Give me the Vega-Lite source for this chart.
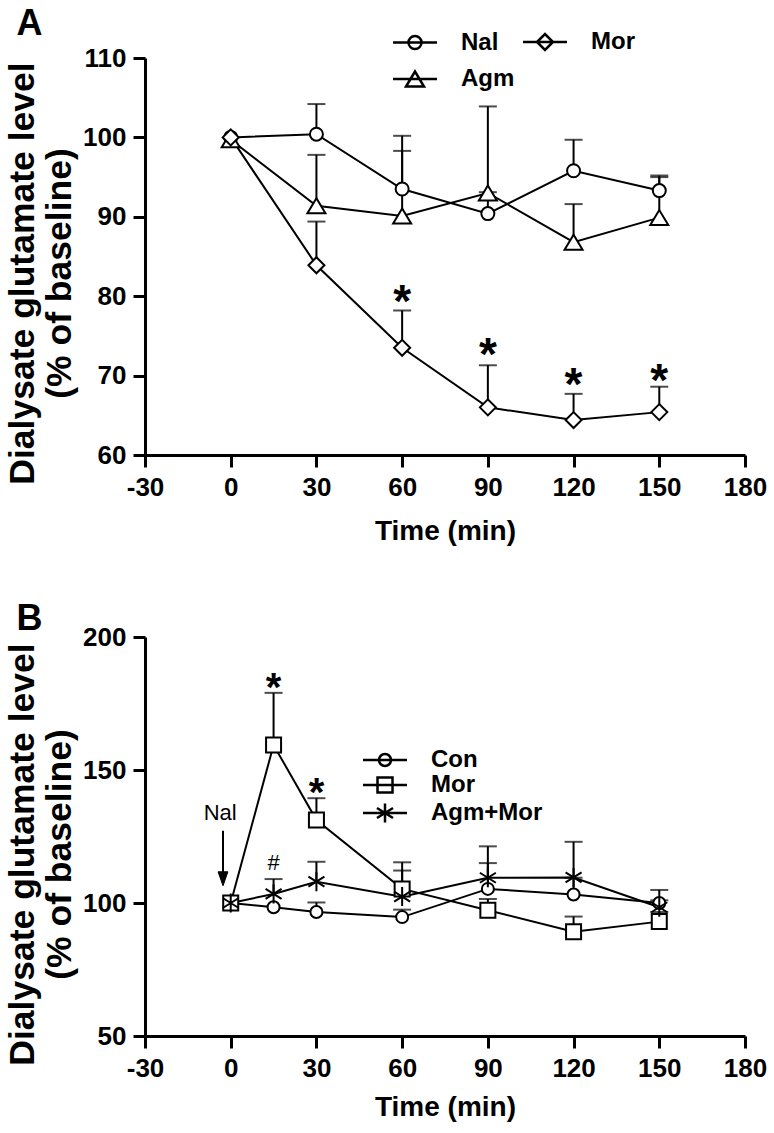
{
  "$schema": "https://vega.github.io/schema/vega-lite/v6.json",
  "background": "white",
  "padding": {"left": 5, "top": 5, "right": 5, "bottom": 5},
  "spacing": 56,
  "resolve": {"scale": {"shape": "independent", "x": "independent", "y": "independent"}, "legend": {"shape": "independent"}},
  "config": {
    "view": {"stroke": null},
    "font": "Liberation Sans",
    "axis": {
      "domainColor": "black", "domainWidth": 3, "tickColor": "black", "tickWidth": 3, "tickSize": 12,
      "labelFont": "Liberation Sans", "labelFontSize": 26, "labelFontWeight": "bold", "labelColor": "black",
      "labelPadding": 7, "labelFlush": false, "labelOverlap": false, "labelBound": false,
      "titleFont": "Liberation Sans", "titleFontWeight": "bold", "titleColor": "black", "grid": false
    },
    "legend": {
      "labelFont": "Liberation Sans", "labelFontSize": 24, "labelFontWeight": "bold", "labelColor": "black",
      "symbolStrokeWidth": 2, "symbolSize": 400, "padding": 0,
      "symbolStrokeColor": "black"
    },
    "title": {"font": "Liberation Sans", "fontWeight": "bold", "color": "black"}
  },
  "datasets": {
    "A": [
      {"g": "Nal", "t": 0, "v": 100},
      {"g": "Nal", "t": 30, "v": 100.4, "hi": 104.2},
      {"g": "Nal", "t": 60, "v": 93.5, "hi": 100.2},
      {"g": "Nal", "t": 90, "v": 90.4, "hi": 93.1},
      {"g": "Nal", "t": 120, "v": 95.8, "hi": 99.7},
      {"g": "Nal", "t": 150, "v": 93.3, "hi": 95.2},
      {"g": "Agm", "t": 0, "v": 99.7},
      {"g": "Agm", "t": 30, "v": 91.4, "hi": 97.8},
      {"g": "Agm", "t": 60, "v": 90.1, "hi": 98.3},
      {"g": "Agm", "t": 90, "v": 93.0, "hi": 103.9},
      {"g": "Agm", "t": 120, "v": 86.8, "hi": 91.6},
      {"g": "Agm", "t": 150, "v": 89.9, "hi": 95.0},
      {"g": "Mor", "t": 0, "v": 100},
      {"g": "Mor", "t": 30, "v": 83.9, "hi": 89.4},
      {"g": "Mor", "t": 60, "v": 73.5, "hi": 78.2},
      {"g": "Mor", "t": 90, "v": 66.0, "hi": 71.3},
      {"g": "Mor", "t": 120, "v": 64.4, "hi": 67.7},
      {"g": "Mor", "t": 150, "v": 65.4, "hi": 68.6}
    ],
    "Astars": [
      {"t": 60, "v": 80.15, "label": "*"},
      {"t": 90, "v": 73.45, "label": "*"},
      {"t": 120, "v": 69.7, "label": "*"},
      {"t": 150, "v": 70.2, "label": "*"}
    ],
    "B": [
      {"g": "Con", "t": 0, "v": 100},
      {"g": "Con", "t": 15, "v": 98.4},
      {"g": "Con", "t": 30, "v": 96.6, "hi": 100.2},
      {"g": "Con", "t": 60, "v": 94.7, "hi": 97.5},
      {"g": "Con", "t": 90, "v": 105.3, "hi": 115.0},
      {"g": "Con", "t": 120, "v": 103.2, "hi": 109.5},
      {"g": "Con", "t": 150, "v": 100.0, "hi": 104.9},
      {"g": "Mor", "t": 0, "v": 100},
      {"g": "Mor", "t": 15, "v": 159.4, "hi": 179.0},
      {"g": "Mor", "t": 30, "v": 131.2, "hi": 139.4},
      {"g": "Mor", "t": 60, "v": 105.3, "hi": 115.3},
      {"g": "Mor", "t": 90, "v": 97.3, "hi": 101.5},
      {"g": "Mor", "t": 120, "v": 89.2, "hi": 94.9},
      {"g": "Mor", "t": 150, "v": 93.0, "hi": 96.6},
      {"g": "Agm+Mor", "t": 0, "v": 100},
      {"g": "Agm+Mor", "t": 15, "v": 103.4, "hi": 109.0},
      {"g": "Agm+Mor", "t": 30, "v": 108.0, "hi": 115.5},
      {"g": "Agm+Mor", "t": 60, "v": 102.4, "hi": 112.2},
      {"g": "Agm+Mor", "t": 90, "v": 109.5, "hi": 121.3},
      {"g": "Agm+Mor", "t": 120, "v": 109.6, "hi": 123.0},
      {"g": "Agm+Mor", "t": 150, "v": 98.4, "hi": 101.0}
    ],
    "Bstars": [
      {"t": 15, "v": 183.6, "label": "*"},
      {"t": 30, "v": 144.1, "label": "*"}
    ],
    "Bhash": [
      {"t": 15, "v": 115, "label": "#"}
    ],
    "Bnal": [
      {"t": -3.7, "v": 131.3, "label": "Nal"}
    ],
    "Barrow": [
      {"t": -2.7, "v": 127.2, "v2": 110.5}
    ],
    "Bhead": [
      {"t": -2.7, "v": 109.1}
    ]
  },
  "vconcat": [
    {
      "width": 600,
      "height": 397,
      "title": {"text": "A", "anchor": "start", "frame": "bounds", "fontSize": 36, "offset": -12.5, "dx": 11},
      "resolve": {"scale": {"shape": "independent"}, "legend": {"shape": "independent"}},
      "encoding": {
        "x": {"field": "t", "type": "quantitative", "scale": {"domain": [-30, 180], "nice": false, "zero": false},
              "axis": {"values": [-30, 0, 30, 60, 90, 120, 150, 180], "labelExpr": "'' + datum.value", "title": "Time (min)", "titleFontSize": 28, "titlePadding": 17}},
        "y": {"field": "v", "type": "quantitative", "scale": {"domain": [60, 110], "nice": false, "zero": false},
              "axis": {"values": [60, 70, 80, 90, 100, 110], "title": ["Dialysate glutamate level", "(% of baseline)"], "titleFontSize": 35.5, "titleLineHeight": 37, "titlePadding": 5, "titleY": 215}}
      },
      "layer": [
        {
          "data": {"name": "A"},
          "transform": [{"filter": "datum.t == 0"}],
          "mark": {"type": "point", "filled": true, "fill": "transparent", "stroke": "transparent", "strokeWidth": 2.5, "size": 400, "opacity": 1},
          "encoding": {
            "shape": {"field": "g", "type": "nominal",
              "scale": {"domain": ["Nal", "Agm", "Mor"],
                "range": ["M-2.2,0L2.2,0M0.65,0A0.65,0.65 0 1 1 -0.65,0A0.65,0.65 0 1 1 0.65,0Z", "M-2.2,0L2.2,0M0,-0.75L-0.9,0.75L0.9,0.75Z", "M-2.2,0L2.2,0M-0.8,0L0,-0.8L0.8,0L0,0.8Z"]},
              "legend": {"title": null, "orient": "none", "legendX": 258, "legendY": -28, "columns": 2, "columnPadding": 3, "rowPadding": 11, "labelOffset": 34,
                "symbolSize": 400, "symbolStrokeColor": "black", "symbolStrokeWidth": 2.5, "symbolOpacity": 1}}
          }
        },
        {
          "data": {"name": "A"},
          "transform": [{"filter": "isValid(datum.hi)"}],
          "mark": {"type": "rule", "color": "black", "strokeWidth": 2},
          "encoding": {"y2": {"field": "hi"}}
        },
        {
          "data": {"name": "A"},
          "transform": [{"filter": "isValid(datum.hi)"}],
          "mark": {"type": "tick", "orient": "horizontal", "color": "black", "size": 18, "thickness": 2},
          "encoding": {"y": {"field": "hi", "type": "quantitative", "scale": {"domain": [60, 110], "nice": false, "zero": false},
              "axis": {"values": [60, 70, 80, 90, 100, 110], "title": ["Dialysate glutamate level", "(% of baseline)"], "titleFontSize": 35.5, "titleLineHeight": 37, "titlePadding": 5, "titleY": 215}}}
        },
        {
          "data": {"name": "A"},
          "mark": {"type": "line", "color": "black", "strokeWidth": 2},
          "encoding": {"detail": {"field": "g"}}
        },
        {
          "data": {"name": "A"},
          "mark": {"type": "point", "filled": true, "fill": "white", "stroke": "black", "strokeWidth": 2, "size": 400, "opacity": 1},
          "encoding": {
            "shape": {"field": "g", "type": "nominal",
              "scale": {"domain": ["Nal", "Agm", "Mor"],
                "range": ["M0.65,0A0.65,0.65 0 1 1 -0.65,0A0.65,0.65 0 1 1 0.65,0Z", "M0,-0.75L-0.9,0.75L0.9,0.75Z", "M-0.8,0L0,-0.8L0.8,0L0,0.8Z"]},
              "legend": null}
          }
        },
        {
          "data": {"name": "Astars"},
          "mark": {"type": "text", "fontSize": 46, "fontWeight": "bold", "color": "black", "baseline": "middle", "dy": 8},
          "encoding": {"text": {"field": "label"}}
        }
      ]
    },
    {
      "width": 600,
      "height": 399,
      "title": {"text": "B", "anchor": "start", "frame": "bounds", "fontSize": 36, "offset": -14, "dx": 11},
      "resolve": {"scale": {"shape": "independent"}, "legend": {"shape": "independent"}},
      "encoding": {
        "x": {"field": "t", "type": "quantitative", "scale": {"domain": [-30, 180], "nice": false, "zero": false},
              "axis": {"values": [-30, 0, 30, 60, 90, 120, 150, 180], "labelExpr": "'' + datum.value", "title": "Time (min)", "titleFontSize": 28, "titlePadding": 12}},
        "y": {"field": "v", "type": "quantitative", "scale": {"domain": [50, 200], "nice": false, "zero": false},
              "axis": {"values": [50, 100, 150, 200], "title": ["Dialysate glutamate level", "(% of baseline)"], "titleFontSize": 35.5, "titleLineHeight": 37, "titlePadding": 5, "titleY": 217}}
      },
      "layer": [
        {
          "data": {"name": "B"},
          "transform": [{"filter": "datum.t == 0"}],
          "mark": {"type": "point", "filled": true, "fill": "transparent", "stroke": "transparent", "strokeWidth": 2.5, "size": 400, "opacity": 1},
          "encoding": {
            "shape": {"field": "g", "type": "nominal",
              "scale": {"domain": ["Con", "Mor", "Agm+Mor"],
                "range": ["M-2.2,0L2.2,0M0.6,0A0.6,0.6 0 1 1 -0.6,0A0.6,0.6 0 1 1 0.6,0Z", "M-2.2,0L2.2,0M-0.75,-0.75L0.75,-0.75L0.75,0.75L-0.75,0.75Z", "M-2.2,0L2.2,0M0,-0.95L0,0.95M-0.8,-0.5L0.8,0.5M-0.8,0.5L0.8,-0.5"]},
              "legend": {"title": null, "orient": "none", "legendX": 228, "legendY": 111, "rowPadding": 0, "labelOffset": 34,
                "symbolSize": 400, "symbolStrokeColor": "black", "symbolStrokeWidth": 2.5, "symbolOpacity": 1}}
          }
        },
        {
          "data": {"name": "B"},
          "transform": [{"filter": "isValid(datum.hi)"}],
          "mark": {"type": "rule", "color": "black", "strokeWidth": 2},
          "encoding": {"y2": {"field": "hi"}}
        },
        {
          "data": {"name": "B"},
          "transform": [{"filter": "isValid(datum.hi)"}],
          "mark": {"type": "tick", "orient": "horizontal", "color": "black", "size": 18, "thickness": 2},
          "encoding": {"y": {"field": "hi", "type": "quantitative", "scale": {"domain": [50, 200], "nice": false, "zero": false},
              "axis": {"values": [50, 100, 150, 200], "title": ["Dialysate glutamate level", "(% of baseline)"], "titleFontSize": 35.5, "titleLineHeight": 37, "titlePadding": 5, "titleY": 217}}}
        },
        {
          "data": {"name": "B"},
          "mark": {"type": "line", "color": "black", "strokeWidth": 2},
          "encoding": {"detail": {"field": "g"}}
        },
        {
          "data": {"name": "B"},
          "mark": {"type": "point", "filled": true, "fill": "white", "stroke": "black", "strokeWidth": 2, "size": 400, "opacity": 1},
          "encoding": {
            "shape": {"field": "g", "type": "nominal",
              "scale": {"domain": ["Con", "Mor", "Agm+Mor"],
                "range": ["M0.6,0A0.6,0.6 0 1 1 -0.6,0A0.6,0.6 0 1 1 0.6,0Z", "M-0.75,-0.75L0.75,-0.75L0.75,0.75L-0.75,0.75Z", "M0,-0.95L0,0.95M-0.8,-0.5L0.8,0.5M-0.8,0.5L0.8,-0.5"]},
              "legend": null}
          }
        },
        {
          "data": {"name": "Bstars"},
          "mark": {"type": "text", "fontSize": 40, "fontWeight": "bold", "color": "black", "baseline": "middle", "dy": 8},
          "encoding": {"text": {"field": "label"}}
        },
        {
          "data": {"name": "Bhash"},
          "mark": {"type": "text", "fontSize": 22, "color": "black", "baseline": "middle"},
          "encoding": {"text": {"field": "label"}}
        },
        {
          "data": {"name": "Bnal"},
          "mark": {"type": "text", "fontSize": 22, "color": "black", "baseline": "alphabetic"},
          "encoding": {"text": {"field": "label"}}
        },
        {
          "data": {"name": "Barrow"},
          "mark": {"type": "rule", "color": "black", "strokeWidth": 2},
          "encoding": {"y2": {"field": "v2"}}
        },
        {
          "data": {"name": "Bhead"},
          "mark": {"type": "point", "filled": true, "fill": "black", "stroke": "black", "strokeWidth": 1, "size": 196, "opacity": 1, "shape": "M-0.7,-1L0.7,-1L0,1Z"},
          "encoding": {}
        }
      ]
    }
  ]
}
